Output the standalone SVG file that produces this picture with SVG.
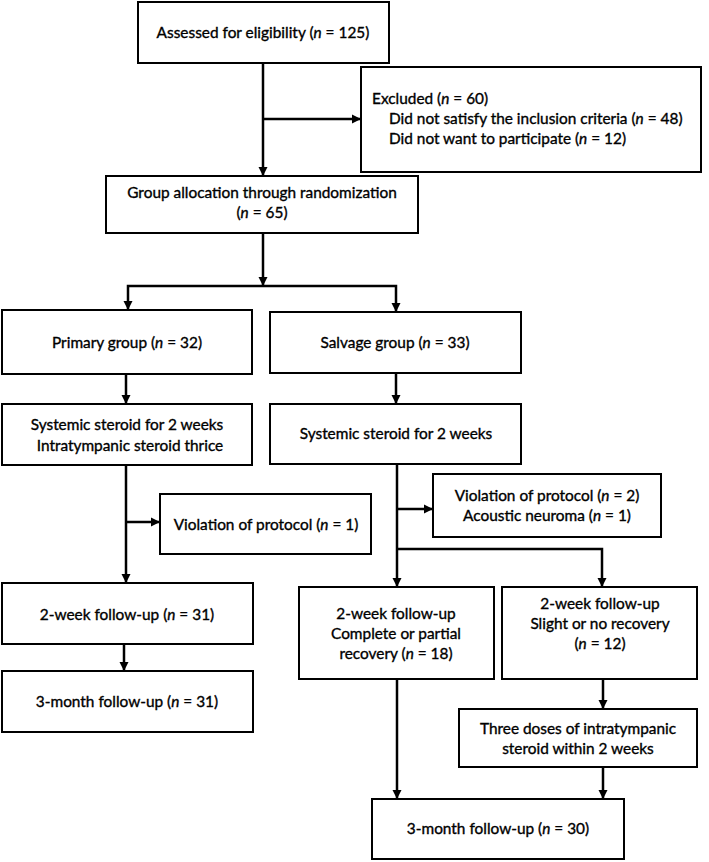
<svg xmlns="http://www.w3.org/2000/svg" width="709" height="862" viewBox="0 0 709 862">
<style>
.box{fill:#fff;stroke:#000;stroke-width:2}
.t{font-family:Lato,"Liberation Sans",sans-serif;font-size:15.4px;fill:#000;stroke:#000;stroke-width:0.35;text-anchor:middle}
.l{text-anchor:start}
.i{font-style:italic}
.c{fill:none;stroke:#000;stroke-width:2.5}
</style>
<defs>
<marker id="ah" markerUnits="userSpaceOnUse" markerWidth="10" markerHeight="10" refX="9" refY="5" orient="auto">
<path d="M0,0.5 L9,5 L0,9.5 Z" fill="#000"/>
</marker>
</defs>
<rect width="709" height="862" fill="#fff"/>
<g id="connectors">
<path class="c" d="M263,63 V176" marker-end="url(#ah)"/>
<path class="c" d="M263,119 H361" marker-end="url(#ah)"/>
<path class="c" d="M263,233 V286" marker-end="url(#ah)"/>
<path class="c" d="M263,286 H128 V310" marker-end="url(#ah)"/>
<path class="c" d="M263,286 H396 V312" marker-end="url(#ah)"/>
<path class="c" d="M126,374 V404" marker-end="url(#ah)"/>
<path class="c" d="M396,373 V404" marker-end="url(#ah)"/>
<path class="c" d="M126,465 V583" marker-end="url(#ah)"/>
<path class="c" d="M126,522 H160" marker-end="url(#ah)"/>
<path class="c" d="M124,644 V671" marker-end="url(#ah)"/>
<path class="c" d="M397,464 V587" marker-end="url(#ah)"/>
<path class="c" d="M397,509 H433" marker-end="url(#ah)"/>
<path class="c" d="M397,549 H602 V587" marker-end="url(#ah)"/>
<path class="c" d="M397,679 V799" marker-end="url(#ah)"/>
<path class="c" d="M603,679 V709" marker-end="url(#ah)"/>
<path class="c" d="M603,767 V799" marker-end="url(#ah)"/>
</g>
<g id="assessed">
<rect class="box" x="138" y="2" width="251" height="61"/>
<text class="t" x="263" y="38">Assessed for eligibility (<tspan class="i">n</tspan> = 125)</text>
</g>
<g id="excluded">
<rect class="box" x="361" y="67" width="340" height="105"/>
<text class="t l" x="372" y="104">Excluded (<tspan class="i">n</tspan> = 60)</text>
<text class="t l" x="389" y="124">Did not satisfy the inclusion criteria (<tspan class="i">n</tspan> = 48)</text>
<text class="t l" x="389" y="144">Did not want to participate (<tspan class="i">n</tspan> = 12)</text>
</g>
<g id="allocation">
<rect class="box" x="106" y="176" width="312" height="57"/>
<text class="t" x="262" y="198">Group allocation through randomization</text>
<text class="t" x="262" y="218">(<tspan class="i">n</tspan> = 65)</text>
</g>
<g id="primary">
<rect class="box" x="2" y="310" width="250" height="64"/>
<text class="t" x="127" y="348">Primary group (<tspan class="i">n</tspan> = 32)</text>
</g>
<g id="salvage">
<rect class="box" x="270" y="312" width="251" height="61"/>
<text class="t" x="395" y="348">Salvage group (<tspan class="i">n</tspan> = 33)</text>
</g>
<g id="primary-treatment">
<rect class="box" x="2" y="404" width="250" height="61"/>
<text class="t" x="127" y="430">Systemic steroid for 2 weeks</text>
<text class="t" x="130" y="451">Intratympanic steroid thrice</text>
</g>
<g id="salvage-treatment">
<rect class="box" x="270" y="404" width="251" height="60"/>
<text class="t" x="396" y="439">Systemic steroid for 2 weeks</text>
</g>
<g id="violation1">
<rect class="box" x="160" y="494" width="211" height="60"/>
<text class="t" x="266" y="530">Violation of protocol (<tspan class="i">n</tspan> = 1)</text>
</g>
<g id="violation2">
<rect class="box" x="433" y="474" width="228" height="63"/>
<text class="t" x="547" y="501">Violation of protocol (<tspan class="i">n</tspan> = 2)</text>
<text class="t" x="547" y="521">Acoustic neuroma (<tspan class="i">n</tspan> = 1)</text>
</g>
<g id="primary-2week">
<rect class="box" x="2" y="583" width="251" height="61"/>
<text class="t" x="127" y="620">2-week follow-up (<tspan class="i">n</tspan> = 31)</text>
</g>
<g id="complete">
<rect class="box" x="299" y="587" width="195" height="92"/>
<text class="t" x="396" y="619">2-week follow-up</text>
<text class="t" x="396" y="639">Complete or partial</text>
<text class="t" x="396" y="659">recovery (<tspan class="i">n</tspan> = 18)</text>
</g>
<g id="slight">
<rect class="box" x="502" y="587" width="195" height="92"/>
<text class="t" x="600" y="609">2-week follow-up</text>
<text class="t" x="600" y="629">Slight or no recovery</text>
<text class="t" x="600" y="649">(<tspan class="i">n</tspan> = 12)</text>
</g>
<g id="primary-3month">
<rect class="box" x="2" y="671" width="251" height="61"/>
<text class="t" x="127" y="707">3-month follow-up (<tspan class="i">n</tspan> = 31)</text>
</g>
<g id="intratympanic">
<rect class="box" x="459" y="709" width="238" height="58"/>
<text class="t" x="578" y="734">Three doses of intratympanic</text>
<text class="t" x="578" y="754">steroid within 2 weeks</text>
</g>
<g id="salvage-3month">
<rect class="box" x="372" y="799" width="252" height="60"/>
<text class="t" x="498" y="834">3-month follow-up (<tspan class="i">n</tspan> = 30)</text>
</g>
</svg>
